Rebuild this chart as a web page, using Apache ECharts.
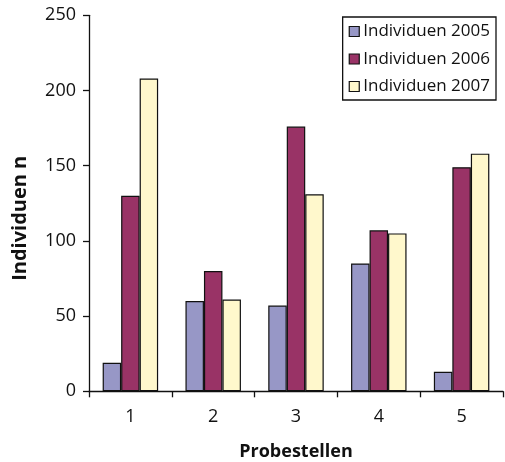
<!DOCTYPE html>
<html><head><meta charset="utf-8">
<script src="https://cdn.jsdelivr.net/npm/echarts@6/dist/echarts.min.js"></script>
<style>html,body{margin:0;padding:0;background:#fff}#c{width:505px;height:462px}</style>
</head><body><div id="c"></div>
<script>
var categories = ['1','2','3','4','5'];
var seriesNames = ['Individuen 2005','Individuen 2006','Individuen 2007'];
var v2005 = [19, 60, 57, 85, 13];
var v2006 = [130, 80, 176, 107, 149];
var v2007 = [208, 61, 131, 105, 158];
var colors = ['#9797c6', '#993366', '#fff8cc'];
var yTicks = [0, 50, 100, 150, 200, 250];

var chart = echarts.init(document.getElementById('c'), null, {renderer:'canvas'});
var axisFont = '"Open Sans", "DejaVu Sans", sans-serif';
function bar(name, data, color){
  return {name:name, type:'bar', data:data, barGap:'0%', barCategoryGap:'33%',
    itemStyle:{color:color, borderColor:'#111', borderWidth:1.2}};
}
chart.setOption({
  animation:false,
  grid:{left:89, right:2, top:15.3, bottom:70.7, containLabel:false, outerBoundsMode:'none'},
  legend:{
    orient:'vertical', right:9, top:17,
    itemWidth:10, itemHeight:10, itemGap:10.5,
    icon:'rect',
    borderColor:'#111', borderWidth:1.3, padding:[6,6,5,6],
    textStyle:{fontFamily:axisFont, fontSize:17, color:'#111', padding:[0,0,0,-1]},
    itemStyle:{borderColor:'#111', borderWidth:1.2},
    data:seriesNames
  },
  xAxis:{
    type:'category', data:categories,
    name:'Probestellen', nameLocation:'middle', nameGap:52,
    nameTextStyle:{fontFamily:axisFont, fontWeight:'bold', fontSize:18, color:'#111'},
    axisLine:{lineStyle:{color:'#111', width:1.3}},
    axisTick:{show:true, length:6, lineStyle:{color:'#111', width:1.3}, alignWithLabel:false},
    axisLabel:{fontFamily:axisFont, fontSize:18, color:'#111', margin:17}
  },
  yAxis:{
    type:'value', min:0, max:250, interval:50,
    name:'Individuen n', nameLocation:'middle', nameGap:59, nameRotate:90,
    nameTextStyle:{fontFamily:axisFont, fontWeight:'bold', fontSize:20, color:'#111', padding:[0,30,0,0]},
    splitLine:{show:false},
    axisLine:{show:true, lineStyle:{color:'#111', width:1.3}},
    axisTick:{show:true, length:6, lineStyle:{color:'#111', width:1.3}},
    axisLabel:{fontFamily:axisFont, fontSize:18, color:'#111', margin:13,
      formatter:function(v){return yTicks.indexOf(v)>=0 ? String(v) : '';}}
  },
  series:[bar(seriesNames[0], v2005, colors[0]), bar(seriesNames[1], v2006, colors[1]), bar(seriesNames[2], v2007, colors[2])]
});
</script></body></html>
